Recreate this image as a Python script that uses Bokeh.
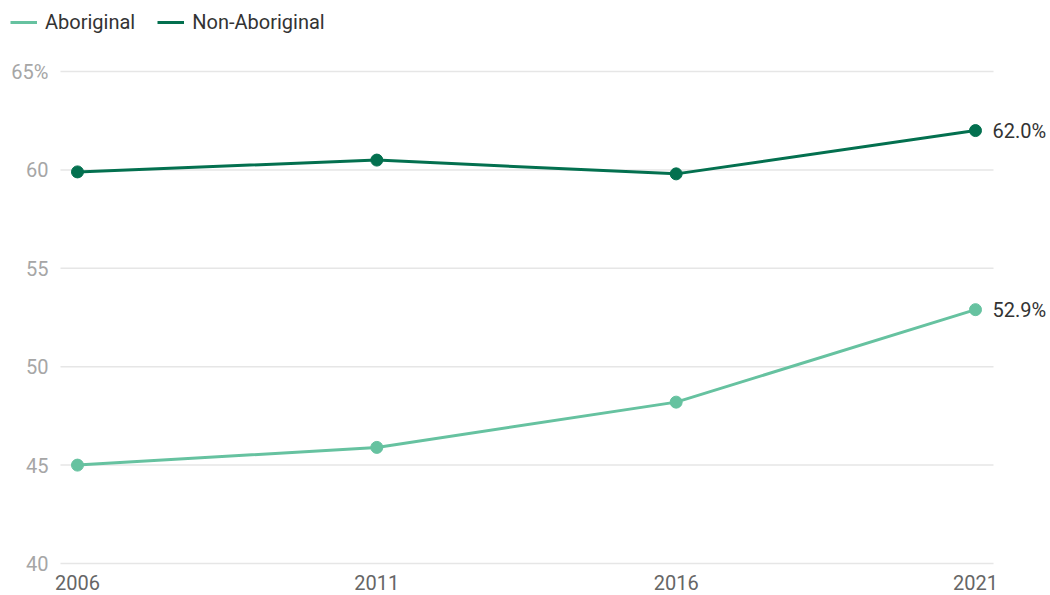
from bokeh.plotting import figure
from bokeh.models import FixedTicker, Legend, LegendItem, Range1d
from bokeh.core.properties import value
from bokeh.embed import file_html
from bokeh.resources import INLINE

years = [2006, 2011, 2016, 2021]
aboriginal = [45.0, 45.9, 48.2, 52.9]
non_aboriginal = [59.9, 60.5, 59.8, 62.0]
y_ticks = [40, 45, 50, 55, 60, 65]
y_tick_labels = ["40", "45", "50", "55", "60", "65%"]
series_names = ["Aboriginal", "Non-Aboriginal"]

LIGHT = "#66c2a0"
DARK = "#03704f"
FONT = "Roboto"

# layout: frame spans whole figure width; x axis below
X0, X1 = 2004.714, 2022.253      # x range (pixel layout)
GX0, GX1 = 2005.716, 2021.301    # grid line extent
Y0, Y1 = 39.492, 68.61

p = figure(width=1050, height=595, output_backend="svg", toolbar_location=None,
           x_range=Range1d(X0, X1), y_range=Range1d(Y0, Y1),
           min_border_left=0, min_border_right=0, min_border_top=0, min_border_bottom=22)
p.outline_line_color = None
p.background_fill_color = "white"
p.border_fill_color = "white"
p.yaxis.visible = False
p.xgrid.grid_line_color = None
p.ygrid.grid_line_color = None

# horizontal grid
p.segment(x0=[GX0] * len(y_ticks), x1=[GX1] * len(y_ticks), y0=y_ticks, y1=y_ticks,
          line_color="#e6e6e6", line_width=1.5)
# y tick labels
p.text(x=[GX0] * len(y_ticks), y=y_ticks, text=y_tick_labels, x_offset=-12,
       text_align="right", text_baseline="middle", text_color="#a6a6a6",
       text_font=value(FONT), text_font_size="20px")

p.xaxis.ticker = FixedTicker(ticks=years)
p.xaxis.axis_line_color = None
p.xaxis.major_tick_line_color = None
p.xaxis.minor_tick_line_color = None
p.xaxis.major_label_text_color = "#666666"
p.xaxis.major_label_text_font = FONT
p.xaxis.major_label_text_font_size = "20px"
p.xaxis.major_label_standoff = -5

l1 = p.line(years, aboriginal, line_color=LIGHT, line_width=3)
p.scatter(years, aboriginal, size=12, fill_color=LIGHT, line_color=LIGHT)
l2 = p.line(years, non_aboriginal, line_color=DARK, line_width=3)
p.scatter(years, non_aboriginal, size=12, fill_color=DARK, line_color=DARK)

# end-value labels
end_x = [years[-1], years[-1]]
end_y = [non_aboriginal[-1], aboriginal[-1]]
p.text(x=end_x, y=end_y, text=[f"{v:.1f}%" for v in end_y], x_offset=17,
       text_align="left", text_baseline="middle", text_color="#333333",
       text_font=value(FONT), text_font_size="20px")

legend = Legend(items=[LegendItem(label=series_names[0], renderers=[l1]),
                       LegendItem(label=series_names[1], renderers=[l2])],
                location="top_left", orientation="horizontal",
                label_text_font=FONT, label_text_font_size="20px", label_text_color="#333333",
                glyph_width=27, label_standoff=8, spacing=22, padding=0, margin=10,
                border_line_color=None, background_fill_alpha=0)
p.add_layout(legend, "center")

open("out.html", "w").write(file_html(p, INLINE))
